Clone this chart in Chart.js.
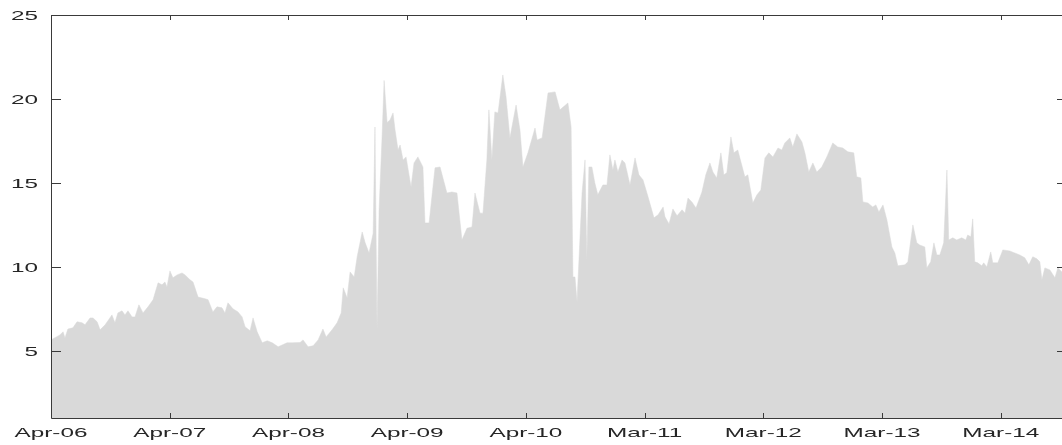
<!DOCTYPE html>
<html>
<head>
<meta charset="utf-8">
<script src="https://cdn.jsdelivr.net/npm/chart.js@4/dist/chart.umd.min.js"></script>
<style>
  html, body { margin: 0; padding: 0; background: #fff; overflow: hidden; }
  #wrap { width: 1062px; height: 445px; overflow: hidden; }
</style>
</head>
<body>
<div id="wrap"><canvas id="grafico" width="1068" height="445"></canvas></div>
<script>
// weeks since the first observation
const weeks = [
  0, 3.9, 5.3, 6.1, 7.4, 9.6, 11.4, 13.6, 14.9, 17.1, 18.4, 20.2, 21.5, 23.7, 26.7, 28.0,
  29.3, 31.1, 32.4, 33.7, 35.5, 36.8, 38.5, 40.3, 42.5, 44.7, 46.9, 48.6, 49.9, 50.8,
  52.1, 53.4, 55.2, 57.4, 58.7, 60.9, 62.2, 64.4, 67.5, 68.8, 70.9, 72.7, 74.9, 76.2,
  77.5, 79.7, 81.9, 83.7, 85.0, 87.2, 88.5, 90.3, 92.5, 94.7, 96.9, 99.5, 103.4, 106.0,
  109.1, 110.4, 112.6, 114.8, 117.0, 119.1, 120.5, 123.1, 125.3, 127.1, 128.0, 129.7,
  131.0, 132.8, 134.1, 136.3, 137.6, 139.3, 141.1, 141.9, 142.8, 143.7, 145.0, 145.9,
  147.2, 148.5, 149.8, 150.7, 152.0, 152.9, 154.2, 155.5, 157.7, 159.0, 160.7, 162.9,
  163.8, 165.6, 168.2, 170.4, 173.4, 175.6, 177.8, 180.0, 182.2, 184.4, 185.7, 187.9,
  189.2, 190.9, 191.8, 193.1, 194.4, 195.8, 197.9, 199.3, 201.0, 203.7, 205.4, 206.7,
  208.9, 212.0, 212.9, 215.1, 217.7, 220.8, 222.9, 226.4, 227.8, 228.6, 229.5, 230.4,
  232.6, 233.9, 234.7, 235.6, 236.9, 238.2, 239.5, 241.7, 243.5, 244.8, 246.1, 247.0,
  248.3, 250.1, 251.4, 253.6, 255.8, 257.5, 259.3, 261.5, 264.1, 265.9, 268.1, 268.9,
  270.7, 272.4, 274.2, 276.4, 277.7, 279.0, 280.7, 282.5, 285.1, 286.8, 288.6, 289.9,
  291.6, 293.4, 294.7, 296.0, 297.8, 299.1, 300.8, 303.9, 305.2, 307.4, 309.2, 310.9,
  312.7, 314.4, 316.2, 318.4, 320.1, 321.4, 323.6, 324.9, 326.7, 328.9, 330.2, 331.9,
  333.7, 335.4, 337.6, 339.8, 342.4, 344.6, 346.8, 349.0, 351.6, 352.9, 354.7, 355.6,
  357.8, 359.9, 361.3, 362.6, 364.4, 366.1, 368.3, 369.6, 370.9, 374.0, 375.3, 377.5,
  379.2, 380.5, 382.7, 383.6, 385.3, 386.7, 388.0, 389.3, 391.0, 392.4, 393.2, 395.0,
  396.7, 398.9, 400.7, 401.5, 402.9, 403.7, 404.6, 405.9, 407.7, 408.5, 409.9, 411.6,
  412.5, 414.7, 416.9, 419.9, 422.1, 424.3, 426.5, 428.3, 430.0, 431.8, 433.1, 434.0,
  435.3, 437.5, 439.7, 441.0, 442.8
];

const valores = [
  5.65, 5.95, 6.13, 5.77, 6.3, 6.37, 6.73, 6.67, 6.55, 6.96, 6.96, 6.73, 6.25, 6.55, 7.14, 6.67,
  7.26, 7.38, 7.14, 7.38, 7.02, 7.02, 7.74, 7.26, 7.62, 8.04, 9.05, 8.93, 9.1, 8.8,
  9.76, 9.35, 9.52, 9.64, 9.52, 9.23, 9.1, 8.2, 8.1, 8.04, 7.32, 7.62, 7.56, 7.26,
  7.86, 7.5, 7.32, 7.02, 6.43, 6.19, 6.96, 6.13, 5.48, 5.6, 5.48, 5.24, 5.48, 5.48,
  5.5, 5.65, 5.24, 5.3, 5.65, 6.3, 5.83, 6.25, 6.67, 7.26, 8.75, 8.15,
  9.7, 9.4, 10.6, 12.08, 11.43, 10.83, 12.0, 18.33, 6.25, 13.4, 17.7, 21.1,
  18.6, 18.75, 19.17, 18.15, 16.96, 17.26, 16.37, 16.55, 14.76, 16.19, 16.55, 15.95,
  12.62, 12.62, 15.9, 15.95, 14.4, 14.46, 14.4, 11.6, 12.3, 12.38, 14.4, 13.2,
  13.2, 16.37, 19.35, 16.37, 19.23, 19.17, 21.43, 20.12, 17.68, 19.64, 18.15, 15.95,
  16.79, 18.27, 17.56, 17.68, 20.36, 20.42, 19.35, 19.76, 18.33, 9.4, 9.4, 7.92,
  14.4, 16.37, 10.42, 15.95, 15.95, 15.0, 14.29, 14.88, 14.88, 16.67, 15.77, 16.37,
  15.65, 16.37, 16.19, 14.88, 16.49, 15.48, 15.18, 14.17, 12.92, 13.1, 13.57, 12.98,
  12.56, 13.45, 13.04, 13.4, 13.2, 14.1, 13.87, 13.5, 14.46, 15.48, 16.19, 15.65,
  15.3, 16.79, 15.48, 15.6, 17.74, 16.79, 16.96, 15.36, 15.48, 13.81, 14.29, 14.58,
  16.49, 16.79, 16.55, 17.08, 16.96, 17.38, 17.68, 17.14, 17.92, 17.44, 16.79, 15.65,
  16.19, 15.65, 15.95, 16.55, 17.38, 17.14, 17.08, 16.85, 16.79, 15.36, 15.3, 13.87,
  13.81, 13.57, 13.69, 13.27, 13.69, 12.8, 11.19, 10.83, 10.06, 10.12, 10.3, 12.5,
  11.43, 11.3, 11.19, 9.94, 10.3, 11.43, 10.71, 10.71, 11.43, 15.77, 11.6, 11.73,
  11.6, 11.73, 11.6, 11.9, 11.79, 12.86, 10.3, 10.24, 10.06, 10.24, 10.0, 10.89,
  10.24, 10.24, 11.01, 10.95, 10.83, 10.71, 10.54, 10.12, 10.6, 10.48, 10.3, 9.23,
  9.94, 9.82, 9.35, 9.94, 9.7
];

const xTicks = [0, 52, 104, 156, 208, 260, 312, 364, 416];
const xLabels = ["Apr-06", "Apr-07", "Apr-08", "Apr-09", "Apr-10", "Mar-11", "Mar-12", "Mar-13", "Mar-14"];
const yTicks = [5, 10, 15, 20, 25];

const puntos = weeks.map((w, i) => ({ x: w, y: valores[i] }));

// box, inward ticks and the wide tick labels
const ejes = {
  id: "ejes",
  afterDraw(chart) {
    const { ctx, chartArea: a, scales } = chart;
    const sx = scales.x, sy = scales.y;
    ctx.save();
    ctx.strokeStyle = "#3a3a3a";
    ctx.lineWidth = 1;
    ctx.beginPath();
    ctx.rect(a.left + 0.5, a.top + 0.5, a.right - a.left - 1, a.bottom - a.top);
    xTicks.forEach((t) => {
      const px = Math.round(sx.getPixelForValue(t)) + 0.5;
      ctx.moveTo(px, a.bottom); ctx.lineTo(px, a.bottom - 5);
      ctx.moveTo(px, a.top); ctx.lineTo(px, a.top + 5);
    });
    yTicks.forEach((t) => {
      const py = Math.round(sy.getPixelForValue(t)) + 0.5;
      ctx.moveTo(a.left, py); ctx.lineTo(a.left + 10, py);
      ctx.moveTo(a.right, py); ctx.lineTo(a.right - 10, py);
    });
    ctx.stroke();

    ctx.fillStyle = "#262626";
    ctx.font = "13.5px 'Liberation Sans', Arial, sans-serif";
    ctx.textBaseline = "alphabetic";
    ctx.textAlign = "center";
    xTicks.forEach((t, i) => {
      ctx.save();
      ctx.translate(sx.getPixelForValue(t), a.bottom + 19);
      ctx.scale(1.8, 1);
      ctx.fillText(xLabels[i], 0, 0);
      ctx.restore();
    });
    ctx.textAlign = "right";
    ctx.textBaseline = "middle";
    yTicks.forEach((t) => {
      ctx.save();
      ctx.translate(a.left - 13, sy.getPixelForValue(t) + 1);
      ctx.scale(1.8, 1);
      ctx.fillText(String(t), 0, 0);
      ctx.restore();
    });
    ctx.restore();
  },
};

new Chart(document.getElementById("grafico"), {
  type: "line",
  data: {
    datasets: [
      {
        data: puntos,
        fill: "start",
        backgroundColor: "#d9d9d9",
        borderColor: "#d9d9d9",
        borderWidth: 0.5,
        pointRadius: 0,
        tension: 0,
      },
    ],
  },
  options: {
    responsive: false,
    animation: false,
    layout: { padding: { top: 15, right: 1, left: 0, bottom: 0 } },
    plugins: { legend: { display: false }, tooltip: { enabled: false } },
    scales: {
      x: {
        type: "linear",
        min: 0,
        max: 445,
        grid: { display: false },
        border: { display: false },
        ticks: { display: false },
        afterFit: (s) => { s.height = 27; },
      },
      y: {
        min: 1,
        max: 25,
        grid: { display: false },
        border: { display: false },
        ticks: { display: false },
        afterFit: (s) => { s.width = 51; },
      },
    },
  },
  plugins: [ejes],
});
</script>
</body>
</html>
